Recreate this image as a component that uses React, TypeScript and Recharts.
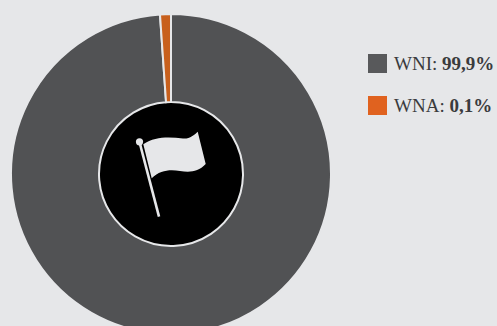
import React from "react";
import { PieChart, Pie, Cell, Legend } from "recharts";

const names = ["WNI", "WNA"];
const shares = [99.9, 0.1];
const shareLabels = ["99,9%", "0,1%"];
const sliceColors = ["#515254", "#c8601d"];
const swatchColors = ["#58595b", "#e0621f"];
const hub = [1];

const BG = "#e6e7e9";
const rows = names.map((name, i) => ({ name, value: shares[i] }));
const hubRows = hub.map((value) => ({ name: "hub", value }));

function LegendRows() {
  return (
    <div style={{ fontFamily: "'Liberation Serif', serif", fontSize: 19, color: "#3a3b3d" }}>
      {names.map((name, i) => (
        <div key={name} style={{ display: "flex", alignItems: "center", height: 19, marginBottom: 23, whiteSpace: "nowrap" }}>
          <span style={{ width: 19, height: 19, background: swatchColors[i], marginRight: 7, flex: "none" }} />
          <span>
            {name}: <b>{shareLabels[i]}</b>
          </span>
        </div>
      ))}
    </div>
  );
}

// Flag emblem laid over the black hub
function FlagEmblem() {
  return (
    <svg width={497} height={326} style={{ position: "absolute", left: 0, top: 0, pointerEvents: "none" }}>
      <g fill={BG}>
        <path d="M143.3 144.3C155 136 170 137 183 138.5C190 139 194 135 197.7 131.7L205.7 164C198 172 190 172.5 180 171C170 169.5 160 170 151.7 178.3Z" />
        <circle cx={139.5} cy={141.8} r={3.6} />
        <path d="M139.5 142L159 216.7" stroke={BG} strokeWidth={2.6} fill="none" />
      </g>
    </svg>
  );
}

export default function App() {
  return (
    <div style={{ position: "fixed", inset: 0, background: BG, overflow: "hidden" }}>
      <PieChart width={497} height={326} margin={{ top: 0, right: 0, bottom: 0, left: 0 }}>
        <Pie
          data={hubRows}
          dataKey="value"
          cx={171}
          cy={174}
          innerRadius={0}
          outerRadius={72}
          startAngle={90}
          endAngle={-270}
          fill="#000000"
          stroke="none"
          legendType="none"
          isAnimationActive={false}
        />
        <Pie
          data={rows}
          dataKey="value"
          nameKey="name"
          cx={171}
          cy={174}
          innerRadius={72}
          outerRadius={160}
          startAngle={90}
          endAngle={-270}
          minAngle={3.6}
          stroke={BG}
          strokeWidth={2}
          isAnimationActive={false}
        >
          {rows.map((r, i) => (
            <Cell key={r.name} fill={sliceColors[i]} />
          ))}
        </Pie>
        <Legend
          content={<LegendRows />}
          layout="vertical"
          wrapperStyle={{ left: 368, top: 54, width: 129, bottom: "auto", right: "auto" }}
        />
      </PieChart>
      <FlagEmblem />
    </div>
  );
}
